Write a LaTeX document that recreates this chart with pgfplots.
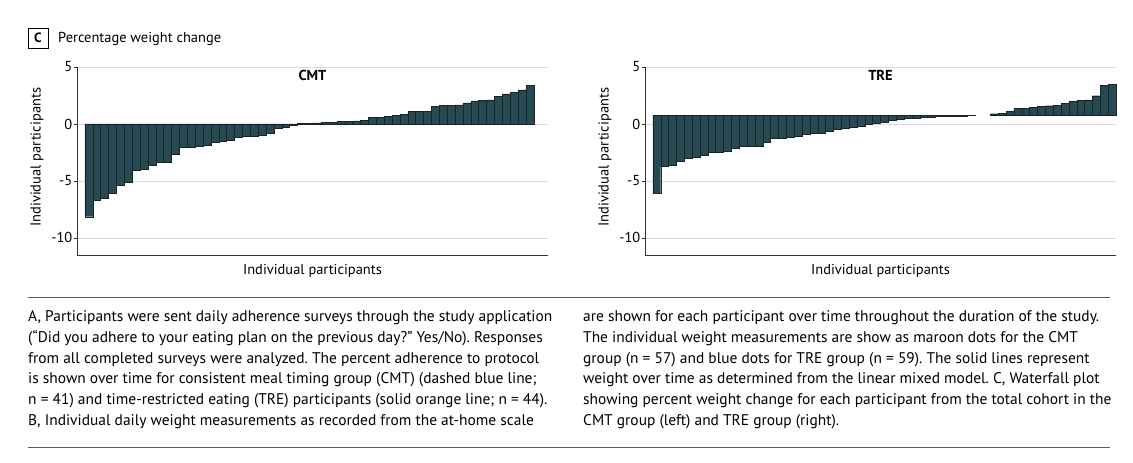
\documentclass[border=0pt]{standalone}
\usepackage{fontspec}
\setmainfont{PT Sans}
\usepackage{pgfplots}
\usepackage{pgfplotstable}
\pgfplotsset{compat=1.18}
\frenchspacing

\definecolor{barc}{RGB}{38,73,82}
\definecolor{baredge}{RGB}{25,35,40}
\definecolor{gridc}{RGB}{218,218,218}
\definecolor{axc}{RGB}{50,50,50}
\definecolor{rulec}{RGB}{90,90,90}

% percent weight change, sorted (waterfall)
\pgfplotstableread{
x v
1 -8.14
2 -6.72
3 -6.50
4 -6.08
5 -5.40
6 -5.10
7 -4.10
8 -3.98
9 -3.62
10 -3.38
11 -3.37
12 -2.65
13 -2.05
14 -2.00
15 -1.95
16 -1.87
17 -1.62
18 -1.52
19 -1.40
20 -1.18
21 -1.10
22 -1.06
23 -1.00
24 -0.85
25 -0.40
26 -0.26
27 -0.10
28 0.03
29 0.06
30 0.10
31 0.12
32 0.17
33 0.20
34 0.24
35 0.28
36 0.34
37 0.56
38 0.59
39 0.65
40 0.73
41 0.83
42 1.10
43 1.11
44 1.12
45 1.53
46 1.62
47 1.65
48 1.67
49 1.86
50 2.02
51 2.07
52 2.12
53 2.44
54 2.65
55 2.77
56 3.00
57 3.36
}\cmtdata

% TRE bars hang from a baseline near 0.78
\pgfplotstableread{
x base v
1 0.78 -6.12
2 0.78 -3.75
3 0.78 -3.64
4 0.78 -3.30
5 0.78 -3.03
6 0.78 -2.90
7 0.78 -2.78
8 0.78 -2.52
9 0.78 -2.46
10 0.78 -2.43
11 0.78 -2.13
12 0.78 -1.99
13 0.78 -1.95
14 0.78 -1.93
15 0.78 -1.58
16 0.78 -1.25
17 0.78 -1.22
18 0.78 -1.19
19 0.78 -1.10
20 0.78 -0.90
21 0.78 -0.82
22 0.78 -0.80
23 0.78 -0.60
24 0.78 -0.50
25 0.78 -0.40
26 0.78 -0.32
27 0.78 -0.20
28 0.78 -0.05
29 0.78 0.05
30 0.78 0.15
31 0.78 0.30
32 0.78 0.40
33 0.78 0.48
34 0.78 0.52
35 0.78 0.57
36 0.78 0.60
37 0.78 0.64
38 0.78 0.66
39 0.78 0.68
40 0.78 0.71
41 0.78 0.73
44 0.78 0.90
45 0.78 0.96
46 0.78 1.08
47 0.78 1.34
48 0.78 1.36
49 0.78 1.43
50 0.78 1.52
51 0.78 1.60
52 0.78 1.63
53 0.78 1.80
54 0.78 1.98
55 0.78 2.10
56 0.78 2.12
57 0.78 2.48
58 0.78 3.41
59 0.78 3.50
}\tredata

\pgfplotsset{
  wf/.style={
    scale only axis, width=471bp, height=188bp,
    anchor=south west,
    ymin=-11.5, ymax=5, xmin=-0.5,
    axis lines*=left,
    axis line style={axc, line width=0.8bp},
    xtick=\empty,
    ytick={-10,-5,0,5},
    yticklabels={-10,-5,0,5},
    tick align=outside,
    major tick length=3bp,
    tick style={axc, line width=0.6bp},
    ymajorgrids,
    grid style={gridc, line width=0.8bp},
    yticklabel style={font=\fontsize{14.5}{16}\selectfont, inner sep=1.5bp},
    xlabel={Individual participants},
    ylabel={Individual participants},
    label style={font=\fontsize{14.5}{16}\selectfont},
    xlabel style={at={(axis description cs:0.5,-0.085)}, anchor=center},
    ylabel style={at={(axis description cs:-0.085,0.52)}, anchor=center},
    title style={at={(axis description cs:0.5,0.925)}, anchor=center,
      font=\fontsize{14.5}{16}\selectfont\bfseries},
    clip=false,
  },
  wfbar/.style={fill=barc, draw=baredge, line width=0.4bp},
}

\begin{document}
\begin{tikzpicture}
\path (0,0) rectangle (1133bp,463bp);

% panel heading
\draw[line width=0.8bp] (28bp,415bp) rectangle (48bp,435bp);
\node[font=\fontsize{13.5}{15}\selectfont\bfseries] at (38bp,425bp) {C};
\node[anchor=base west, inner sep=0, font=\fontsize{14.5}{16}\selectfont] at (58bp,420bp) {Percentage weight change};

\begin{axis}[wf, at={(77bp,208bp)}, xmax=59.3, title={CMT}, ybar, bar width=1]
\addplot[wfbar] table[x=x, y=v] {\cmtdata};
\end{axis}

\begin{axis}[wf, at={(645bp,208bp)}, xmax=59.5, title={TRE}, ybar stacked,
  stack negative=on previous, bar width=1]
\addplot[draw=none, fill=none] table[x=x, y=base] {\tredata};
\addplot[wfbar] table[x=x, y expr=\thisrow{v}-\thisrow{base}] {\tredata};
\end{axis}

% caption
\draw[rulec, line width=0.9bp] (28bp,166bp) -- (1110bp,166bp);
\draw[rulec, line width=0.9bp] (28bp,16bp) -- (1110bp,16bp);
\begin{scope}[every node/.style={anchor=base west, inner sep=0, font=\fontsize{15.5}{18}\selectfont}]
\node at (28bp,141bp) {A, Participants were sent daily adherence surveys through the study application};
\node at (28bp,120bp) {(“Did you adhere to your eating plan on the previous day?” Yes/No). Responses};
\node at (28bp,99.5bp) {from all completed surveys were analyzed. The percent adherence to protocol};
\node at (28bp,79bp) {is shown over time for consistent meal timing group (CMT) (dashed blue line;};
\node at (28bp,58.5bp) {n = 41) and time-restricted eating (TRE) participants (solid orange line; n = 44).};
\node at (28bp,38bp) {B, Individual daily weight measurements as recorded from the at-home scale};
\node at (583bp,141bp) {are shown for each participant over time throughout the duration of the study.};
\node at (583bp,120bp) {The individual weight measurements are show as maroon dots for the CMT};
\node at (583bp,99.5bp) {group (n = 57) and blue dots for TRE group (n = 59). The solid lines represent};
\node at (583bp,79bp) {weight over time as determined from the linear mixed model. C, Waterfall plot};
\node at (583bp,58.5bp) {showing percent weight change for each participant from the total cohort in the};
\node at (583bp,38bp) {CMT group (left) and TRE group (right).};
\end{scope}
\end{tikzpicture}
\end{document}
